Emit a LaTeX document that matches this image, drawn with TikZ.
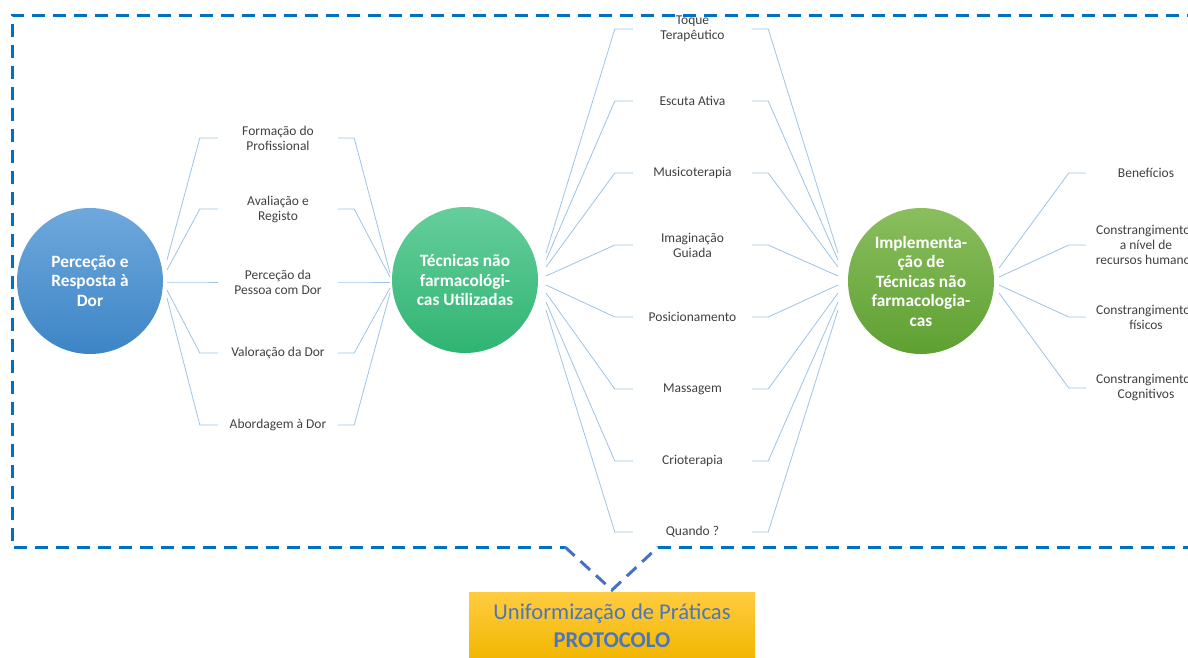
\documentclass[tikz,border=0pt]{standalone}
\usepackage{fontspec}
\setmainfont{Carlito}
\usetikzlibrary{calc}
\definecolor{cnc}{HTML}{9DC3E6}
\definecolor{labtext}{HTML}{404040}
\definecolor{frameblue}{HTML}{0070C0}
\definecolor{vblue}{HTML}{4472C4}
\definecolor{boxtext}{HTML}{4A76C0}
\begin{document}
\begin{tikzpicture}[x=1pt,y=-1pt,
  cn/.style={draw=cnc,line width=0.8pt},
  lab/.style={text=labtext,align=center,font=\fontsize{13.5}{15}\selectfont,minimum width=120pt,inner sep=0pt},
  hub/.style={circle,minimum size=146pt,inner sep=0pt,text=white,align=center,font=\bfseries\fontsize{17.3}{19.5}\selectfont},
  framestyle/.style={line width=3pt,dash pattern=on 13pt off 8pt}
]
\useasboundingbox (0,0) rectangle (1188,657);
% hubs
\node[hub,top color={rgb,255:red,111;green,168;blue,220},bottom color={rgb,255:red,61;green,133;blue,198}] (c1) at (90,281) {Perceção e\\Resposta à\\Dor};
\node[hub,top color={rgb,255:red,102;green,206;blue,156},bottom color={rgb,255:red,48;green,180;blue,114}] (c2) at (465,280) {Técnicas não\\farmacológi-\\cas Utilizadas};
\node[hub,top color={rgb,255:red,138;green,190;blue,94},bottom color={rgb,255:red,94;green,160;blue,50}] (c3) at (921,281) {Implementa-\\ção de\\Técnicas não\\farmacologia-\\cas};
% left labels
\node[lab] (l1) at (278,138) {Formação do\\Profissional};
\node[lab] (l2) at (278,209) {Avaliação e\\Registo};
\node[lab] (l3) at (278,282) {Perceção da\\Pessoa com Dor};
\node[lab] (l4) at (278,353) {Valoração da Dor};
\node[lab] (l5) at (278,425) {Abordagem à Dor};
% middle labels
\node[lab,minimum width=119pt] (m1) at (692.5,29) {Toque\\Terapêutico};
\node[lab,minimum width=119pt] (m2) at (692.5,101) {Escuta Ativa};
\node[lab,minimum width=119pt] (m3) at (692.5,173) {Musicoterapia};
\node[lab,minimum width=119pt] (m4) at (692.5,245) {Imaginação\\Guiada};
\node[lab,minimum width=119pt] (m5) at (692.5,317) {Posicionamento};
\node[lab,minimum width=119pt] (m6) at (692.5,389) {Massagem};
\node[lab,minimum width=119pt] (m7) at (692.5,461) {Crioterapia};
\node[lab,minimum width=119pt] (m8) at (692.5,532) {Quando ?};
% right labels
\node[lab] (r1) at (1146,173) {Benefícios};
\node[lab] (r2) at (1146,245) {Constrangimentos\\a nível de\\recursos humanos};
\node[lab] (r3) at (1146,317) {Constrangimentos\\físicos};
\node[lab] (r4) at (1146,388) {Constrangimentos\\Cognitivos};
% fan coordinates
\foreach \i/\ya/\yb in {1/260/273,2/270/277,3/282/282,4/290/288,5/298/293}{
  \coordinate (la\i) at (167,\ya);
  \coordinate (lb\i) at (390,\yb);
  \draw[cn] (la\i) -- ([xshift=-18pt]l\i.west) -- (l\i.west);
  \draw[cn] (l\i.east) -- ([xshift=16pt]l\i.east) -- (lb\i);
}
\foreach \i/\ya in {1/253,2/260,3/267,4/276,5/285,6/293,7/302,8/310}{
  \coordinate (ma\i) at (546,\ya);
  \coordinate (mb\i) at (838,\ya);
  \draw[cn] (ma\i) -- ([xshift=-18pt]m\i.west) -- (m\i.west);
  \draw[cn] (m\i.east) -- ([xshift=16pt]m\i.east) -- (mb\i);
}
\foreach \i/\ya in {1/268,2/277,3/285,4/293}{
  \coordinate (ra\i) at (999,\ya);
  \draw[cn] (ra\i) -- ([xshift=-17pt]r\i.west) -- (r\i.west);
}
% bottom box
\node[minimum width=286pt,minimum height=68pt,inner sep=0pt,top color={rgb,255:red,255;green,204;blue,64},bottom color={rgb,255:red,242;green,182;blue,0},text=boxtext,align=center,font=\fontsize{22.6}{28}\selectfont] (box) at (612,626) {Uniformização de Práticas\\\textbf{PROTOCOLO}};
% frame
\coordinate (ftr) at (1200,15);
\coordinate (ftl) at (12,15);
\coordinate (fbl) at (12,547);
\coordinate (vl) at (565,547);
\coordinate (vr) at (658,547);
\coordinate (fbr) at (1200,547);
\coordinate (vtip) at (612,590);
\draw[framestyle,draw=frameblue] (ftr) -- (ftl) -- (fbl) -- (vl);
\draw[framestyle,draw=frameblue] (vr) -- (fbr);
\draw[framestyle,draw=vblue] (vl) -- (vtip) -- (vr);
\end{tikzpicture}
\end{document}
